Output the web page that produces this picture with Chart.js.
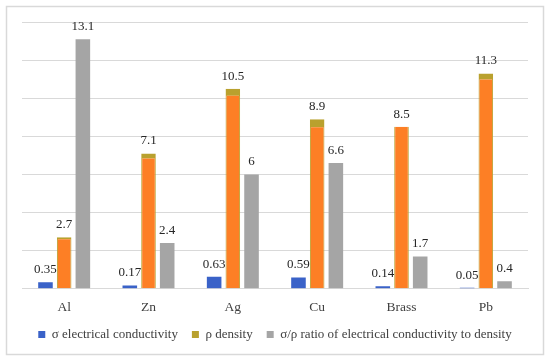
<!DOCTYPE html>
<html><head><meta charset="utf-8">
<script src="https://cdn.jsdelivr.net/npm/chart.js@4/dist/chart.umd.min.js"></script>
<style>html,body{margin:0;padding:0;background:#fff}#wrap{width:550px;height:362px;position:relative}</style>
</head><body><div id="wrap"><canvas id="c" width="550" height="362"></canvas></div>
<script>
const categories = ['Al', 'Zn', 'Ag', 'Cu', 'Brass', 'Pb'];
const conductivity = [0.35, 0.17, 0.63, 0.59, 0.14, 0.05];
const density = [2.7, 7.1, 10.5, 8.9, 8.5, 11.3];
const ratio = [13.1, 2.4, 6, 6.6, 1.7, 0.4];
const seriesNames = ['σ electrical conductivity', 'ρ density', 'σ/ρ ratio of electrical conductivity to density'];
const densityTopBand = [2, 5, 7, 8, 0, 6];

const SERIF = '"Liberation Serif", "DejaVu Serif", serif';

const framePlugin = {
  id: 'frame',
  beforeDraw(chart) {
    const ctx = chart.ctx;
    ctx.save();
    ctx.fillStyle = '#fff';
    ctx.fillRect(0, 0, chart.width, chart.height);
    ctx.strokeStyle = '#d9d9d9';
    ctx.lineWidth = 1.5;
    ctx.strokeRect(6.5, 6.5, 537, 348);
    ctx.restore();
  }
};

const valueLabels = {
  id: 'valueLabels',
  afterDatasetsDraw(chart) {
    const ctx = chart.ctx;
    ctx.save();
    ctx.font = '13px ' + SERIF;
    ctx.fillStyle = '#262626';
    ctx.textAlign = 'center';
    ctx.textBaseline = 'bottom';
    chart.data.datasets.forEach((ds, di) => {
      const meta = chart.getDatasetMeta(di);
      meta.data.forEach((bar, i) => {
        ctx.fillText(String(ds.data[i]), bar.x, bar.y - 6);
      });
    });
    ctx.restore();
  }
};

new Chart(document.getElementById('c'), {
  type: 'bar',
  data: {
    labels: categories,
    datasets: [
      { label: seriesNames[0], data: conductivity, backgroundColor: '#3a62c8', borderWidth: 0 },
      { label: seriesNames[1], data: density, backgroundColor: '#fd7f25',
        borderColor: '#b9a12e',
        borderSkipped: 'start',
        borderWidth: (c) => ({ top: densityTopBand[c.dataIndex] || 0, left: 1, right: 1, bottom: 0 }) },
      { label: seriesNames[2], data: ratio, backgroundColor: '#a5a5a5', borderWidth: 0 }
    ]
  },
  options: {
    responsive: false,
    animation: false,
    devicePixelRatio: 1,
    layout: { padding: { left: 22, right: 22, top: 22, bottom: 11 } },
    datasets: { bar: { categoryPercentage: 0.665, barPercentage: 0.78 } },
    scales: {
      x: {
        grid: { display: false, drawTicks: false },
        border: { display: true, color: '#d9d9d9' },
        ticks: { color: '#404040', font: { family: SERIF, size: 13.5 }, padding: 11 },
        afterFit(s) { s.height -= 13; }
      },
      y: {
        min: 0, max: 14,
        ticks: { stepSize: 2, display: false },
        grid: { color: '#d9d9d9', drawTicks: false },
        border: { display: false }
      }
    },
    plugins: {
      tooltip: { enabled: false },
      legend: {
        position: 'bottom',
        labels: {
          color: '#404040',
          font: { family: SERIF, size: 13 },
          boxWidth: 7, boxHeight: 7, padding: 14,
          generateLabels(chart) {
            const cols = ['#3a62c8', '#b9a12e', '#a5a5a5'];
            return chart.data.datasets.map((ds, i) => ({
              text: ds.label, fillStyle: cols[i], strokeStyle: cols[i], lineWidth: 0,
              fontColor: '#404040', datasetIndex: i, hidden: false
            }));
          }
        }
      }
    }
  },
  plugins: [framePlugin, valueLabels]
});
</script>
</body></html>
